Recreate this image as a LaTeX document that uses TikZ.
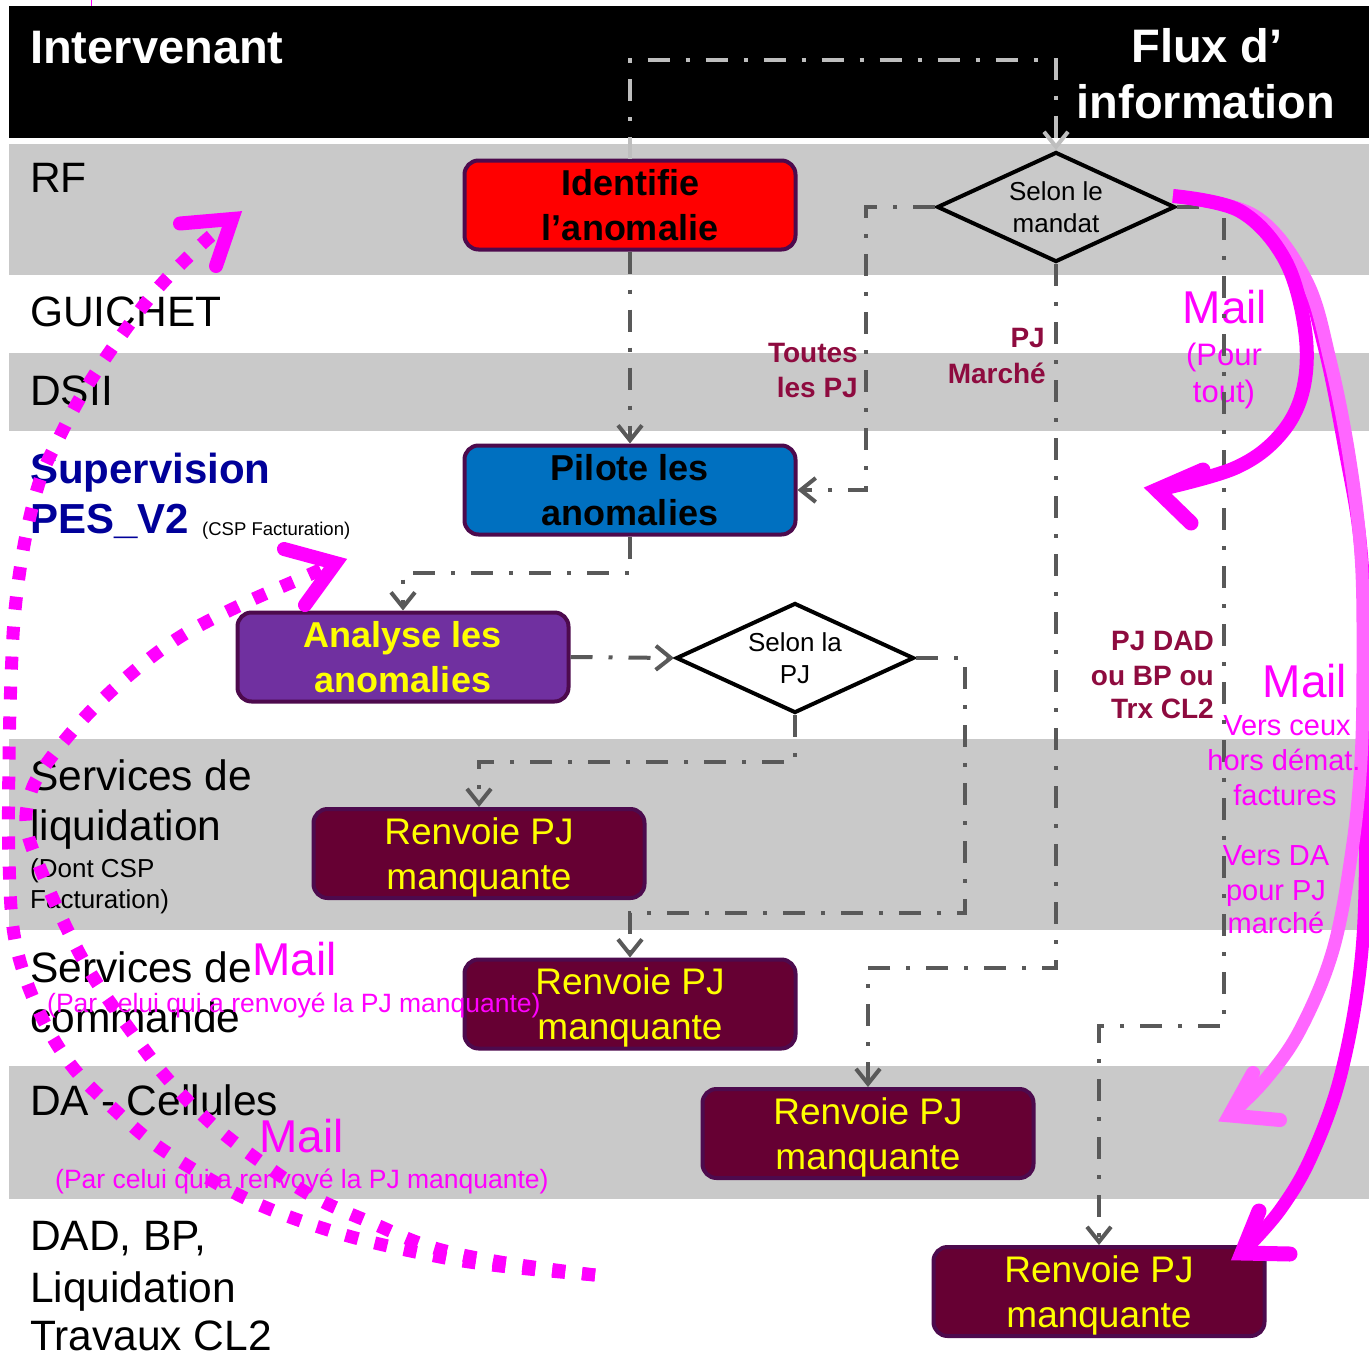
\documentclass[tikz,border=0pt]{standalone}
\usepackage{fontspec}
\setmainfont{Liberation Sans}
\usetikzlibrary{arrows.meta,shapes.geometric}
\newcommand\fsz[2]{\fontsize{#1}{#2}\selectfont}
\definecolor{lanegray}{RGB}{201,201,201}
\definecolor{congray}{RGB}{89,89,89}
\definecolor{conlightgray}{RGB}{190,190,190}
\definecolor{boxborder}{RGB}{77,10,77}
\definecolor{boxred}{RGB}{255,0,0}
\definecolor{boxblue}{RGB}{0,112,192}
\definecolor{boxpurple}{RGB}{112,48,160}
\definecolor{boxmaroon}{RGB}{102,0,51}
\definecolor{labred}{RGB}{142,11,63}
\definecolor{navy0}{RGB}{0,0,153}
\definecolor{mag0}{RGB}{255,0,255}
\definecolor{maglight}{RGB}{255,102,255}
\definecolor{yel0}{RGB}{255,255,0}
\begin{document}
\begin{tikzpicture}[x=1pt,y=-1pt,
  boxnode/.style={rectangle, rounded corners=14pt, draw=boxborder, line width=4pt,
    minimum width=331pt, minimum height=89pt, inner sep=0pt, align=center},
  boldtxt/.style={font=\fsz{36}{45}\bfseries},
  regtxt/.style={font=\fsz{37}{45}},
  decision/.style={diamond, aspect=2.13, draw=black, line width=4pt, minimum width=238pt,
    minimum height=110pt, inner sep=0pt, align=center, font=\fsz{26}{32}},
  lanelab/.style={anchor=base west, inner sep=0pt, font=\fsz{42.5}{50}},
  smalllab/.style={anchor=base west, inner sep=0pt, font=\fsz{26}{31}},
  suplab/.style={anchor=base west, inner sep=0pt, text=navy0, font=\fsz{42}{50}\bfseries},
  hdr/.style={inner sep=0pt, text=white, font=\fsz{47}{56}\bfseries},
  redlab/.style={anchor=base east, inner sep=0pt, text=labred, font=\fsz{28}{34}\bfseries},
  pinkmail/.style={inner sep=0pt, text=mag0, font=\fsz{46}{55}},
  pinktxt/.style={inner sep=0pt, text=mag0, font=\fsz{29}{35}},
  pinkpar/.style={anchor=base west, inner sep=0pt, text=mag0, font=\fsz{26.5}{32}},
  con/.style={draw=congray, line width=4pt, dash pattern=on 22pt off 16pt on 4pt off 16pt,
    -{Straight Barb[length=15pt,width=24pt]}},
  conlight/.style={con, draw=conlightgray},
  magcurve/.style={draw=mag0, line width=14pt},
  lightcurve/.style={draw=maglight, line width=13pt},
  chev/.style={line width=15pt, line cap=round, line join=miter},
  dotline/.style={draw=mag0, line width=13pt, dash pattern=on 13pt off 17pt}
]
\useasboundingbox (0,0) rectangle (1369,1358);
\fill[white] (0,0) rectangle (1369,1358);
% lanes
\fill[black] (9,6) rectangle (1369,138);
\fill[lanegray] (9,144) rectangle (1369,275);
\fill[lanegray] (9,353) rectangle (1369,431);
\fill[lanegray] (9,739) rectangle (1369,930);
\fill[lanegray] (9,1066) rectangle (1369,1199);
\draw[mag0, line width=1pt] (91,0) -- (91,6);
% header texts
\node[hdr, anchor=base west] (intv) at (30,63) {Intervenant};
\node[hdr, anchor=base] (flux1) at (1207,62) {Flux d’};
\node[hdr, anchor=base] (flux2) at (1206,118) {information};
% lane labels
\node[lanelab] (lrf) at (30,192) {RF};
\node[lanelab] (lgui) at (30,326) {GUICHET};
\node[lanelab] (ldsii) at (30,405) {DSII};
\node[suplab] (lsup1) at (30,483) {Supervision};
\node[suplab] (lsup2) at (30,533) {PES\_V2};
\node[anchor=base west, inner sep=0pt, font=\fsz{18.5}{22}] (lcsp) at (202,535) {(CSP Facturation)};
\node[lanelab] (lliq1) at (30,790) {Services de};
\node[lanelab] (lliq2) at (30,840) {liquidation};
\node[smalllab] (lliq3) at (30,877) {(Dont CSP};
\node[smalllab] (lliq4) at (30,908) {Facturation)};
\node[lanelab] (lcom1) at (30,982) {Services de};
\node[lanelab] (lcom2) at (30,1032) {commande};
\node[lanelab] (lda) at (30,1115) {DA - Cellules};
\node[lanelab] (ldad1) at (30,1250) {DAD, BP,};
\node[lanelab] (ldad2) at (30,1302) {Liquidation};
\node[lanelab] (ldad3) at (30,1350) {Travaux CL2};
% dark red labels
\node[redlab] (tl1) at (858,362) {Toutes};
\node[redlab] (tl2) at (858,397) {les PJ};
\node[redlab] (pm1) at (1045,347) {PJ};
\node[redlab] (pm2) at (1046,383) {Marché};
\node[redlab] (pd1) at (1214,650) {PJ DAD};
\node[redlab] (pd2) at (1214,685) {ou BP ou};
\node[redlab] (pd3) at (1214,718) {Trx CL2};
% boxes
\node[boxnode, fill=boxred, boldtxt, text=black] (ident) at (630,205) {Identifie\\l’anomalie};
\node[boxnode, fill=boxblue, boldtxt, text=black] (pilote) at (630,490) {Pilote les\\anomalies};
\node[boxnode, fill=boxpurple, boldtxt, text=yel0] (analyse) at (403,657) {Analyse les\\anomalies};
\node[boxnode, fill=boxmaroon, regtxt, text=yel0] (ren1) at (479,853.5) {Renvoie PJ\\\smash{manquante}};
\node[boxnode, fill=boxmaroon, regtxt, text=yel0] (ren2) at (630,1004) {Renvoie PJ\\\smash{manquante}};
\node[boxnode, fill=boxmaroon, regtxt, text=yel0] (ren3) at (868,1133.5) {Renvoie PJ\\\smash{manquante}};
\node[boxnode, fill=boxmaroon, regtxt, text=yel0] (ren4) at (1099,1291.5) {Renvoie PJ\\\smash{manquante}};
\node[decision] (mandat) at (1056,207) {Selon le\\mandat};
\node[decision, fill=white] (selonpj) at (795,658) {Selon la\\PJ};
% pink texts
\node[pinkmail, anchor=base west] (mail1) at (252,975) {Mail};
\node[pinkpar] (par1) at (47,1012) {(Par celui qui a renvoyé la PJ manquante)};
\node[pinkmail, anchor=base west] (mail2) at (259,1152) {Mail};
\node[pinkpar] (par2) at (55,1188) {(Par celui qui a renvoyé la PJ manquante)};
\node[pinkmail, anchor=base] (mail3) at (1225,323) {Mail};
\node[pinktxt, anchor=base, font=\fsz{31}{37}] (pour1) at (1224,365) {(Pour};
\node[pinktxt, anchor=base, font=\fsz{31}{37}] (pour2) at (1224,402) {tout)};
\node[pinkmail, anchor=base] (mail4) at (1305,697) {Mail};
\node[pinktxt, anchor=base] (vc1) at (1287,735) {Vers ceux};
\node[pinktxt, anchor=base] (vc3) at (1285,805) {factures};
\node[pinktxt, anchor=base] (vd1) at (1276,865) {Vers DA};
\node[pinktxt, anchor=base] (vd2) at (1276,900) {pour PJ};
\node[pinktxt, anchor=base] (vd3) at (1276,933) {marché};
% connectors
\coordinate (k1) at (630,60);
\coordinate (k1b) at (1056,60);
\draw[conlight] (ident.north) -- (k1) -- (k1b) -- (mandat.north);
\draw[con] (ident.south) -- (pilote.north);
\coordinate (k3) at (866,207);
\coordinate (k3b) at (866,490);
\draw[con] (mandat.west) -- (k3) -- (k3b) -- (pilote.east);
\coordinate (k4) at (1056,968);
\coordinate (k4b) at (868,968);
\draw[con] (mandat.south) -- (k4) -- (k4b) -- (ren3.north);
\coordinate (k5) at (1224,207);
\coordinate (k5b) at (1224,1026);
\coordinate (k5c) at (1099,1026);
\draw[con] (mandat.east) -- (k5) -- (k5b) -- (k5c) -- (ren4.north);
\coordinate (k6) at (630,573);
\coordinate (k6b) at (403,573);
\draw[con] (pilote.south) -- (k6) -- (k6b) -- (analyse.north);
\draw[con] (analyse.east) -- (selonpj.west);
\coordinate (k8) at (795,762);
\coordinate (k8b) at (479,762);
\draw[con] (selonpj.south) -- (k8) -- (k8b) -- (ren1.north);
\coordinate (k9) at (965,658);
\coordinate (k9b) at (965,913);
\coordinate (k9c) at (630,913);
\draw[con] (selonpj.east) -- (k9) -- (k9b) -- (k9c) -- (ren2.north);
% magenta mail curves (right)
\draw[magcurve, line width=13pt] plot[smooth, tension=0.6] coordinates {(1173,196) (1250,214) (1300,270) (1325,350) (1345,450) (1360,540) (1366,650) (1366,800) (1362,950) (1342,1070) (1312,1155) (1280,1210) (1242,1253)};
\draw[lightcurve] plot[smooth, tension=0.6] coordinates {(1173,196) (1255,216) (1306,280) (1330,360) (1349,455) (1361,555) (1363,660) (1361,760) (1352,850) (1333,950) (1300,1030) (1265,1080) (1229.5,1115.4)};
\draw[magcurve] plot[smooth, tension=0.6] coordinates {(1173,196) (1240,211) (1285,260) (1305,330) (1303,390) (1280,435) (1235,468) (1157,490)};
\draw[chev, draw=mag0] (1203,470) -- (1157,490) -- (1191,523);
\draw[chev, draw=maglight, line width=14pt] (1280,1120) -- (1229.5,1115.4) -- (1253,1073);
\draw[chev, draw=mag0] (1290,1254) -- (1242,1253) -- (1259,1211);
\node[pinktxt, anchor=base] (vc2) at (1284,770) {hors démat.};
% magenta dotted curves (left)
\draw[dotline] plot[smooth, tension=0.6] coordinates {(595,1275) (500,1266) (430,1255) (338,1233) (249,1200) (166,1152) (117,1112) (71,1065) (37,1007) (15,940) (9,860) (9,760) (11,680) (15,610) (25,540) (40,480) (58,440) (83,393) (118,340) (158,288) (203,243) (232,219)};
\draw[dotline] plot[smooth, tension=0.6] coordinates {(595,1275) (500,1262) (431,1247) (372,1223) (314,1197) (261,1162) (211,1123) (166,1077) (128,1027) (95,980) (70,935) (45,880) (27,830) (30,795) (47,763) (87,715) (133,672) (183,635) (245,603) (302,578) (335,563)};
\draw[chev, draw=mag0, line width=14pt] (180,223.5) -- (232,219) -- (216,266);
\draw[chev, draw=mag0, line width=14pt] (284,549) -- (335.5,563) -- (305,605);
\end{tikzpicture}
\end{document}
